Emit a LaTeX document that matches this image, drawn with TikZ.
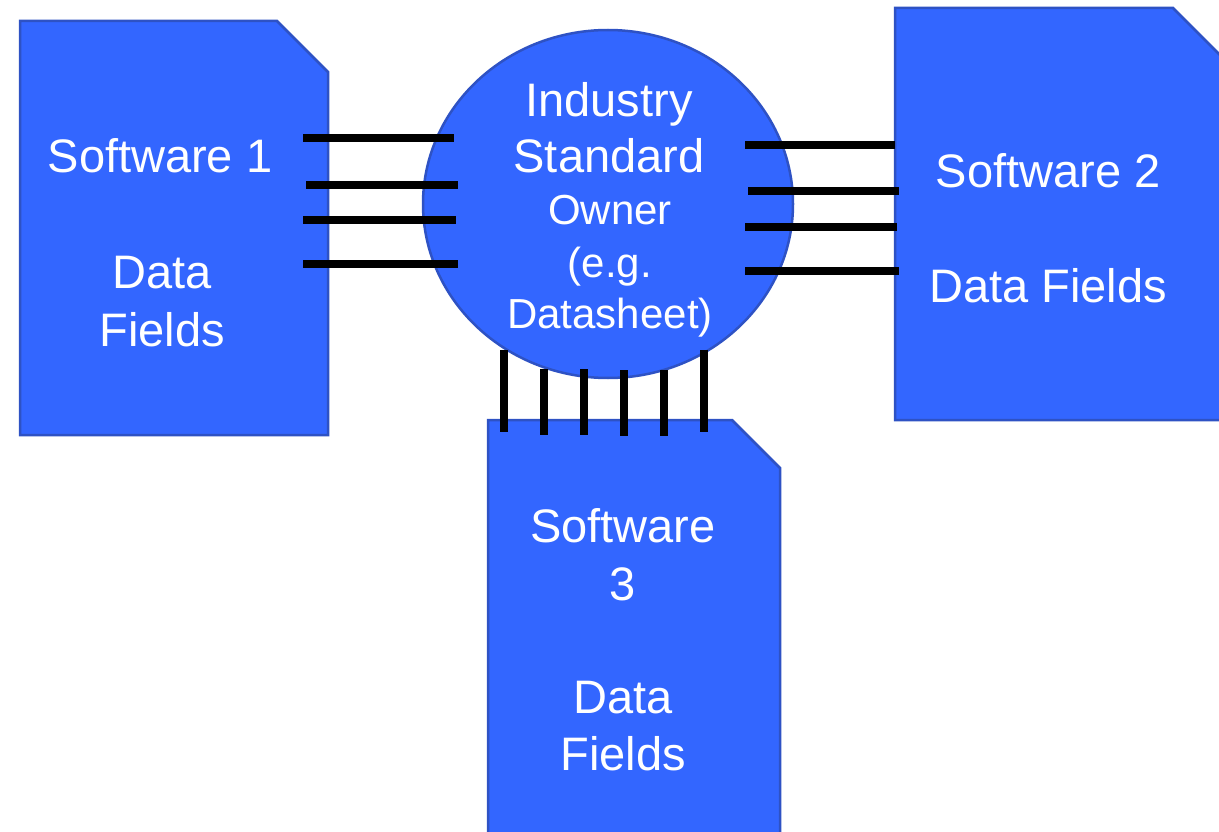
\documentclass[tikz,border=0pt]{standalone}
\usepackage{fontspec}
\setmainfont{Liberation Sans}
\definecolor{docfill}{HTML}{3366FF}
\definecolor{docedge}{HTML}{2E52C4}
\begin{document}
\begin{tikzpicture}[x=1pt,y=-1pt,
  docshape/.style={fill=docfill,draw=docedge,line width=2.5pt,line join=miter},
  bigtxt/.style={text=white,font=\fontsize{47}{57}\selectfont,anchor=base,inner sep=0pt},
  smalltxt/.style={text=white,font=\fontsize{42}{52}\selectfont,anchor=base,inner sep=0pt},
  link/.style={line width=8pt,black}]
\useasboundingbox (0,0) rectangle (1219,832);
\begin{scope}
\clip (0,0) rectangle (1219,832);
% documents
\draw[docshape] (20,21) -- (277,21) -- (328,72) -- (328,435) -- (20,435) -- cycle;
\draw[docshape] (895,8) -- (1173,8) -- (1225,60) -- (1225,420) -- (895,420) -- cycle;
\draw[docshape] (488,420) -- (732,420) -- (780,468) -- (780,840) -- (488,840) -- cycle;
% central ellipse
\draw[docshape] (608,204) ellipse [x radius=185, y radius=174];
\end{scope}
% texts
\node[bigtxt] (s1a) at (160,173) {Software 1};
\node[bigtxt] (s1b) at (162,288) {Data};
\node[bigtxt] (s1c) at (162,346) {Fields};
\node[bigtxt] (s2a) at (1048,188) {Software 2};
\node[bigtxt] (s2b) at (1048,302) {Data Fields};
\node[bigtxt] (s3a) at (623,542) {Software};
\node[bigtxt] (s3b) at (623,600) {3};
\node[bigtxt] (s3c) at (623,713) {Data};
\node[bigtxt] (s3d) at (623,770) {Fields};
\node[bigtxt] (ca) at (609,117) {Industry};
\node[bigtxt] (cb) at (609,173) {Standard};
\node[smalltxt] (cc) at (610,225) {Owner};
\node[smalltxt] (cd) at (610,277) {(e.g.};
\node[smalltxt] (ce) at (610,328) {Datasheet)};
% left links
\draw[link] (303,138) -- (454,138);
\draw[link] (306,185) -- (458,185);
\draw[link] (303,220) -- (456,220);
\draw[link] (303,264) -- (458,264);
% right links
\draw[link] (745,145) -- (895,145);
\draw[link] (748,191) -- (899,191);
\draw[link] (745,227) -- (897,227);
\draw[link] (745,271) -- (899,271);
% bottom links
\draw[link] (504,350) -- (504,432);
\draw[link] (544,369) -- (544,435);
\draw[link] (584,369) -- (584,435);
\draw[link] (624,370) -- (624,436);
\draw[link] (664,370) -- (664,436);
\draw[link] (704,350) -- (704,432);
\end{tikzpicture}
\end{document}
